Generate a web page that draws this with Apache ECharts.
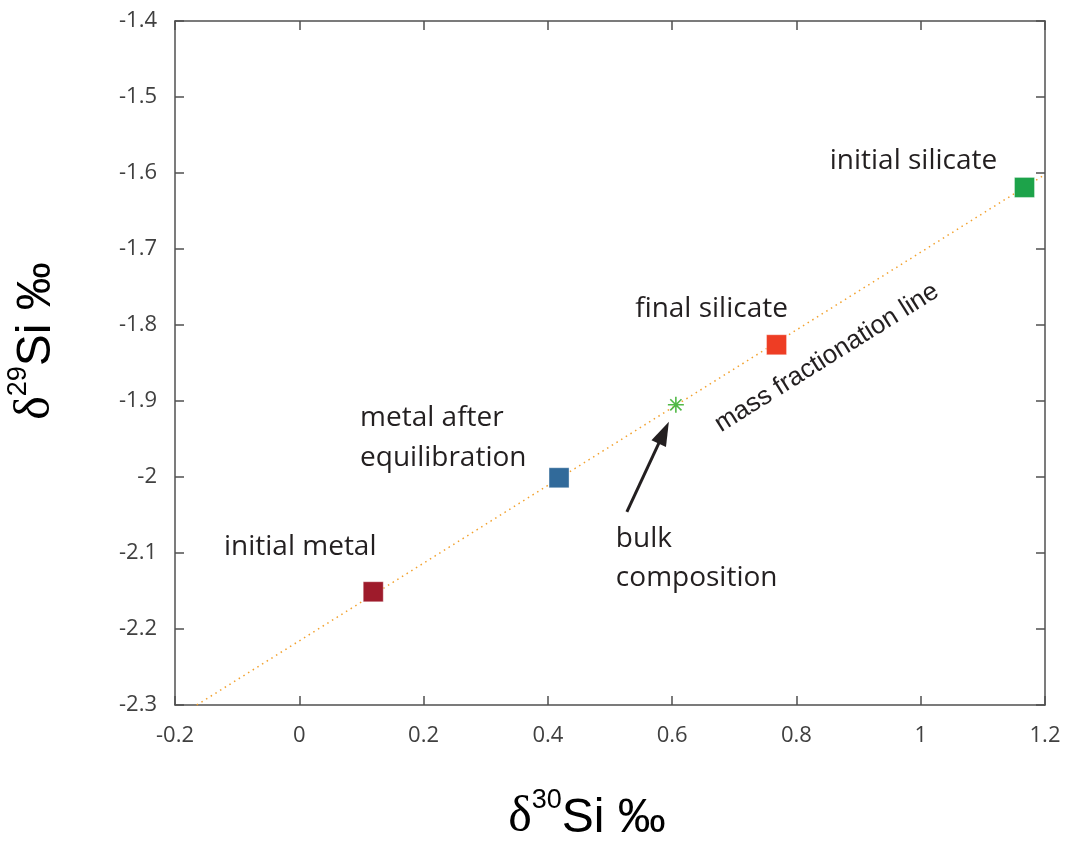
<!DOCTYPE html>
<html>
<head>
<meta charset="utf-8">
<script src="https://cdn.jsdelivr.net/npm/echarts@6/dist/echarts.min.js"></script>
<style>
html,body{margin:0;padding:0;background:#fff;}
#chart{width:1065px;height:842px;}
</style>
</head>
<body>
<div id="chart"></div>
<script>
// ---- data ----
const xTicks = [-0.2, 0, 0.2, 0.4, 0.6, 0.8, 1, 1.2];
const yTicks = [-2.3, -2.2, -2.1, -2.0, -1.9, -1.8, -1.7, -1.6, -1.5, -1.4];
const pointNames = ['initial metal', 'metal after\nequilibration', 'final silicate', 'initial silicate'];
const pointX = [0.119, 0.418, 0.768, 1.167];
const pointY = [-2.151, -2.001, -1.826, -1.619];
const bulkName = 'bulk\ncomposition';
const bulkX = [0.606];
const bulkY = [-1.905];
const lineName = 'mass fractionation line';
const lineX = [-0.165, 1.2];
const lineY = [-2.3, -1.602];

// ---- styles ----
const pointColors = ['#9E1B2B', '#316A9A', '#EE3D24', '#1DA34A'];
const labelStyles = [
  {align: 'center', offset: [-73, -45]},
  {align: 'left', offset: [-199, -40]},
  {align: 'center', offset: [-65, -36]},
  {align: 'center', offset: [-111, -26]}
];
const textColor = '#231F20';
const tickColor = '#404040';
const axisColor = '#505050';
const labelFont = '"Open Sans", "Noto Sans", sans-serif';

const chart = echarts.init(document.getElementById('chart'), null, {renderer: 'canvas'});

const axisCommon = {
  axisLine: {show: true, onZero: false, lineStyle: {color: axisColor, width: 1.5}},
  axisTick: {show: true, inside: true, length: 9, lineStyle: {color: axisColor, width: 1.5}},
  splitLine: {show: false}
};

const fmt = v => String(+v.toFixed(1));

const asterisk = 'path://M45,0L55,0L55,100L45,100Z M0,45L100,45L100,55L0,55Z M11.5,18.5L18.5,11.5L88.5,81.5L81.5,88.5Z M81.5,11.5L88.5,18.5L18.5,88.5L11.5,81.5Z';

const option = {
  backgroundColor: '#ffffff',
  animation: false,
  grid: {left: 175, right: 20, top: 21, bottom: 137, containLabel: false},
  xAxis: [
    Object.assign({}, axisCommon, {
      type: 'value', position: 'bottom',
      min: xTicks[0], max: xTicks[xTicks.length - 1], interval: 0.2,
      axisLabel: {show: true, margin: 20, color: tickColor, fontSize: 22, fontFamily: labelFont, formatter: fmt}
    }),
    Object.assign({}, axisCommon, {
      type: 'value', position: 'top',
      min: xTicks[0], max: xTicks[xTicks.length - 1], interval: 0.2,
      axisLabel: {show: false}
    })
  ],
  yAxis: [
    Object.assign({}, axisCommon, {
      type: 'value', position: 'left',
      min: yTicks[0], max: yTicks[yTicks.length - 1], interval: 0.1,
      axisLabel: {show: true, margin: 18, color: tickColor, fontSize: 22, fontFamily: labelFont, formatter: fmt}
    }),
    Object.assign({}, axisCommon, {
      type: 'value', position: 'right',
      min: yTicks[0], max: yTicks[yTicks.length - 1], interval: 0.1,
      axisLabel: {show: false}
    })
  ],
  series: [
    {
      name: lineName,
      type: 'line',
      data: lineX.map((x, i) => [x, lineY[i]]),
      showSymbol: false,
      symbol: 'none',
      lineStyle: {color: '#F2A12E', width: 1.5, type: [1.5, 4]},
      z: 1
    },
    {
      name: 'points',
      type: 'scatter',
      symbol: 'rect',
      symbolSize: 20,
      z: 3,
      itemStyle: {opacity: 1},
      data: pointX.map((x, i) => ({
        value: [x, pointY[i]],
        name: pointNames[i],
        itemStyle: {color: pointColors[i], opacity: 1, borderColor: 'rgba(255,255,255,0.35)', borderWidth: 1},
        label: {
          show: true, position: 'inside',
          formatter: pointNames[i],
          align: labelStyles[i].align, verticalAlign: 'middle',
          offset: labelStyles[i].offset,
          color: textColor, fontSize: 28, lineHeight: 40, fontFamily: labelFont
        }
      }))
    },
    {
      name: 'bulk',
      type: 'scatter',
      symbol: asterisk,
      symbolSize: 16,
      z: 4,
      itemStyle: {color: '#52B947', opacity: 1},
      data: bulkX.map((x, i) => ({
        value: [x, bulkY[i]],
        name: bulkName,
        label: {
          show: true, position: 'inside', formatter: bulkName,
          align: 'left', verticalAlign: 'middle', offset: [-60, 154],
          color: textColor, fontSize: 28, lineHeight: 39, fontFamily: labelFont
        }
      }))
    }
  ]
};
chart.setOption(option);

// ---- annotations placed relative to data via the chart's scales ----
const star = chart.convertToPixel({seriesIndex: 2}, [bulkX[0], bulkY[0]]);
const tip = [star[0] - 7, star[1] + 17];
const tail = [star[0] - 49, star[1] + 107];
const dx = tip[0] - tail[0], dy = tip[1] - tail[1];
const len = Math.sqrt(dx * dx + dy * dy);
const ux = dx / len, uy = dy / len;
const headLen = 24, headHalf = 8;
const base = [tip[0] - ux * headLen, tip[1] - uy * headLen];
const px = -uy, py = ux;

const titleRich = {
  d: {fontFamily: '"Liberation Serif", "DejaVu Serif", serif', fontSize: 50, color: textColor, lineHeight: 56, verticalAlign: 'bottom'},
  s: {fontFamily: '"Liberation Sans", Arial, sans-serif', fontSize: 27, color: textColor, lineHeight: 30, verticalAlign: 'top'},
  m: {fontFamily: '"Liberation Sans", Arial, sans-serif', fontSize: 48, color: textColor, lineHeight: 56, verticalAlign: 'bottom'}
};

chart.setOption({
  graphic: [
    {
      type: 'line', silent: true, z: 10,
      shape: {x1: tail[0], y1: tail[1], x2: base[0] + ux * 2, y2: base[1] + uy * 2},
      style: {stroke: '#231F20', lineWidth: 3}
    },
    {
      type: 'polygon', silent: true, z: 10,
      shape: {points: [tip, [base[0] + px * headHalf, base[1] + py * headHalf], [base[0] - px * headHalf, base[1] - py * headHalf]]},
      style: {fill: '#231F20'}
    },
    {
      type: 'text', silent: true, z: 10,
      x: star[0] + 151, y: star[1] - 47,
      rotation: 32 * Math.PI / 180,
      style: {
        text: lineName, fill: textColor,
        font: '26px "Liberation Sans", Arial, sans-serif',
        textAlign: 'center', textVerticalAlign: 'middle'
      }
    },
    {
      type: 'text', silent: true, z: 10,
      x: 587, y: 815,
      style: {
        text: '{d|δ}{s|30}{m|Si ‰}', rich: titleRich,
        textAlign: 'center', textVerticalAlign: 'middle'
      }
    },
    {
      type: 'text', silent: true, z: 10,
      x: 33, y: 341,
      rotation: Math.PI / 2,
      style: {
        text: '{d|δ}{s|29}{m|Si ‰}', rich: titleRich,
        textAlign: 'center', textVerticalAlign: 'middle'
      }
    }
  ]
});
</script>
</body>
</html>
